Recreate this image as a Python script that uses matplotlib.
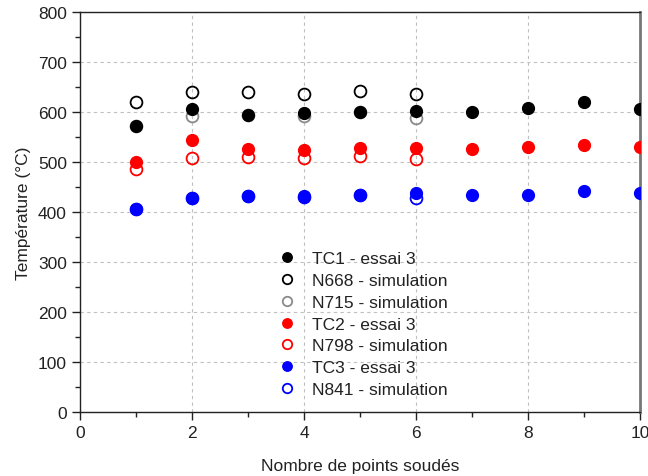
import matplotlib
matplotlib.use("Agg")
import matplotlib.pyplot as plt
from matplotlib.ticker import MultipleLocator

plt.rcParams['font.family'] = ['Liberation Sans', 'DejaVu Sans']

# donnees
x_essai = [1, 2, 3, 4, 5, 6, 7, 8, 9, 10]
x_simu = [1, 2, 3, 4, 5, 6]

tc1 = [573, 606, 595, 598, 600, 602, 601, 608, 620, 607]
n668 = [621, 640, 641, 637, 643, 636]
n715 = [573, 593, 595, 592, 600, 589]
tc2 = [500, 544, 526, 525, 528, 528, 527, 531, 535, 531]
n798 = [487, 508, 511, 508, 513, 506]
tc3 = [407, 428, 433, 433, 434, 438, 435, 435, 442, 438]
n841 = [407, 428, 433, 431, 434, 428]

fig = plt.figure(figsize=(6.48, 4.77), dpi=100)
ax = fig.add_axes([80/648, 1 - 413/477, 560/648, 400/477])

ms = 8.5
ax.plot(x_essai, tc1, 'o', color='black', ms=ms, label='TC1 - essai 3', zorder=5)
ax.plot(x_simu, n668, 'o', mfc='none', mec='black', mew=1.3, ms=ms, label='N668 - simulation', zorder=4)
ax.plot(x_simu, n715, 'o', mfc='none', mec='#8a8a8a', mew=1.3, ms=ms, label='N715 - simulation', zorder=4)
ax.plot(x_essai, tc2, 'o', color='#ff0000', ms=ms, label='TC2 - essai 3', zorder=5)
ax.plot(x_simu, n798, 'o', mfc='none', mec='#ff0000', mew=1.3, ms=ms, label='N798 - simulation', zorder=4)
ax.plot(x_essai, tc3, 'o', color='#0000ff', ms=ms, label='TC3 - essai 3', zorder=5)
ax.plot(x_simu, n841, 'o', mfc='none', mec='#0000ff', mew=1.3, ms=ms, label='N841 - simulation', zorder=4)

ax.set_xlim(0, 10)
ax.set_ylim(0, 800)
ax.xaxis.set_major_locator(MultipleLocator(2))
ax.xaxis.set_minor_locator(MultipleLocator(1))
ax.yaxis.set_major_locator(MultipleLocator(100))
ax.yaxis.set_minor_locator(MultipleLocator(50))
ax.tick_params(which='major', direction='out', length=6, width=1, labelsize=12.5, colors='#222222')
ax.tick_params(which='minor', direction='out', length=3.5, width=1, colors='#222222')

ax.grid(True, which='major', color='#c0c0c0', linestyle=(0, (3, 3)), linewidth=0.8)
ax.set_axisbelow(True)
for s in ax.spines.values():
    s.set_color('#222222')
    s.set_linewidth(1.0)
ax.spines['right'].set_color('#777777')
ax.spines['right'].set_linewidth(2)

ax.set_xlabel('Nombre de points soudés', fontsize=12.5, color='#222222', labelpad=13)
ax.set_ylabel('Température (°C)', fontsize=12.5, color='#222222', labelpad=5)

leg = ax.legend(loc='upper left', bbox_to_anchor=(0.355, 0.402), frameon=False,
                fontsize=12.5, borderpad=0, borderaxespad=0, handlelength=1.0,
                handletextpad=0.9, labelspacing=0.38, markerscale=0.8)
for t in leg.get_texts():
    t.set_color('#222222')

fig.savefig('out.png', dpi=100)
